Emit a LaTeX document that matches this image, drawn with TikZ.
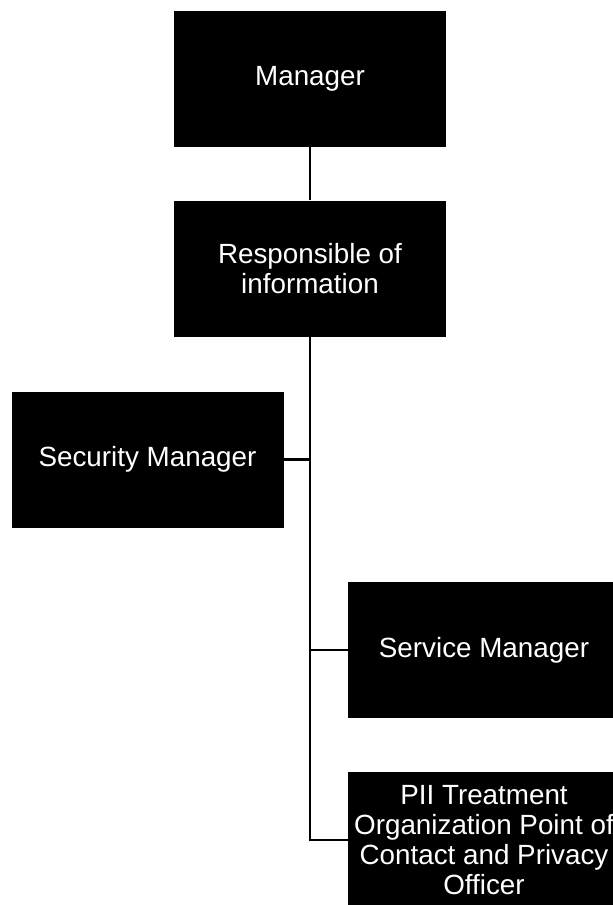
\documentclass[tikz,border=0pt]{standalone}
\usepackage{fontspec}
\setmainfont{Liberation Sans}
\usetikzlibrary{positioning}

\tikzset{
  role/.style={fill=black, text=white, minimum width=272pt, minimum height=136pt,
    inner sep=0pt, align=center, font=\fontsize{27.8}{30}\selectfont},
  link/.style={line width=2.2pt}
}

\begin{document}
\begin{tikzpicture}[x=1pt,y=-1pt]
\useasboundingbox (0,0) rectangle (613,905);
\begin{scope}
\clip (0,0) rectangle (613,905);
\node[role] (mgr) at (310, 79) {Manager};
\node[role] (resp) at (310, 268.5) {Responsible of\\information};
\node[role] (sec) at (147.5, 459.5) {Security Manager};
\node[role] (svc) at (484, 650) {Service Manager};
\node[role] (pii) at (484, 840) {PII Treatment\\Organization Point of\\Contact and Privacy\\Officer};
\end{scope}

\draw[link] (mgr) -- (resp);
\draw[link] (resp.south) |- (pii.west);
\draw[link] (sec.east) -- (sec.east -| resp.south);
\draw[link] (svc.west) -- (svc.west -| resp.south);
\end{tikzpicture}
\end{document}
